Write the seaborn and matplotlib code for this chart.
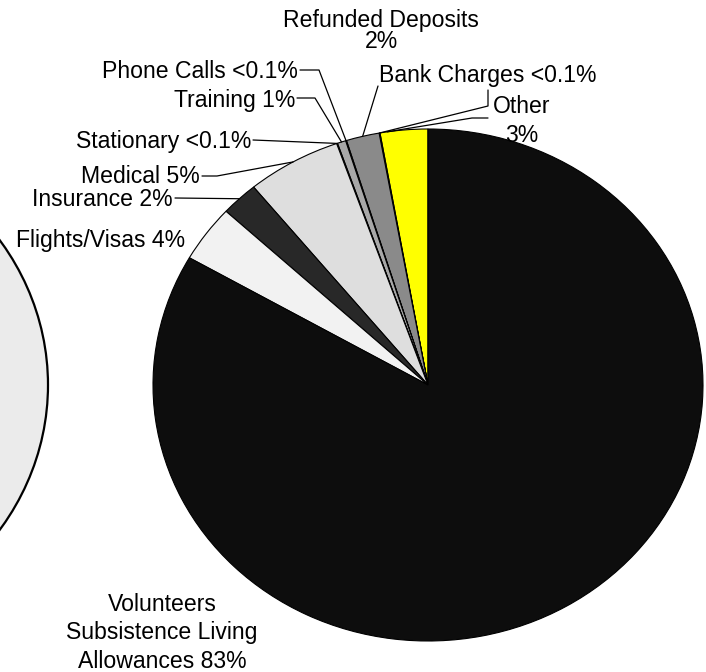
import matplotlib
matplotlib.use('Agg')
import matplotlib.pyplot as plt
from matplotlib.patches import Ellipse
import numpy as np
import seaborn as sns

# Data (counter-clockwise from 12 o'clock)
categories = ['Other', 'Bank Charges', 'Refunded Deposits', 'Phone Calls', 'Training',
              'Stationary', 'Medical', 'Insurance', 'Flights/Visas',
              'Volunteers Subsistence Living Allowances']
shares = [2.8, 0.05, 1.95, 0.05, 0.5, 0.05, 5.55, 2.2, 3.6, 83.4]
label_text = ['Other\n3%', 'Bank Charges <0.1%', 'Refunded Deposits\n2%', 'Phone Calls <0.1%',
              'Training 1%', 'Stationary <0.1%', 'Medical 5%', 'Insurance 2%',
              'Flights/Visas 4%', 'Volunteers\nSubsistence Living\nAllowances 83%']
colors = ['#ffff00', '#808080', '#8a8a8a', '#a0a0a0', '#a8a8a8', '#a0a0a0',
          '#dedede', '#282828', '#f2f2f2', '#0d0d0d']

sns.set_theme(style='white')
plt.rcParams['font.family'] = ['Liberation Sans', 'DejaVu Sans']

# pie geometry in image pixels (slightly elliptical like the original)
CX, CY, RX, RY = 428, 385, 275, 256
W, H = 706, 672


def px(x, y):
    # image pixel -> data coords
    return (x - CX) / RX, (CY - y) / RY


fig = plt.figure(figsize=(W / 100, H / 100), dpi=100)
ax = fig.add_axes([0, 0, 1, 1])

# part of a neighbouring pie, cut off at the left edge
ax.add_patch(Ellipse(px(48 - RX, CY), 2, 2, facecolor='#ebebeb', edgecolor='black', linewidth=1.6))

wedges, _ = ax.pie(shares, colors=colors, startangle=90, counterclock=True, radius=1,
                   wedgeprops=dict(edgecolor='black', linewidth=0.8))
ax.set_aspect('auto')
ax.set_xlim(-CX / RX, (W - CX) / RX)
ax.set_ylim((CY - H) / RY, CY / RY)
ax.axis('off')

# label layout: (anchor x, first baseline y, ha, line gap, leader points, anchor fraction in wedge)
layout = {
    'Other': (522, 113, 'center', 29, [(488, 118), (472, 118)], 0.85),
    'Bank Charges': (379, 82, 'left', 0, [(488, 90), (488, 106)], 0.5),
    'Refunded Deposits': (381, 27, 'center', 21, [(378, 86)], 0.5),
    'Phone Calls': (298, 78, 'right', 0, [(300, 70), (319, 70)], 0.5),
    'Training': (295, 107, 'right', 0, [(297, 98), (315, 98)], 0.5),
    'Stationary': (251, 148, 'right', 0, [(253, 140)], 0.5),
    'Medical': (200, 183, 'right', 0, [(202, 176), (217, 176)], 0.5),
    'Insurance': (173, 206, 'right', 0, [(175, 198)], 0.5),
    'Flights/Visas': (185, 247, 'right', 0, [], 0.5),
    'Volunteers Subsistence Living Allowances': (162, 611, 'center', 28.5, [], 0.5),
}

for cat, w, txt in zip(categories, wedges, label_text):
    x0, y0, ha, gap, pts, frac = layout[cat]
    for i, line in enumerate(txt.split('\n')):
        tx, ty = px(x0, y0 + i * gap)
        ax.text(tx, ty, line, ha=ha, va='baseline', fontsize=16.6, color='black')
    if pts:
        ang = np.deg2rad(w.theta1 + frac * (w.theta2 - w.theta1))
        xs = [px(*p)[0] for p in pts] + [np.cos(ang)]
        ys = [px(*p)[1] for p in pts] + [np.sin(ang)]
        ax.plot(xs, ys, color='black', linewidth=0.9)

fig.savefig('out.png', dpi=100)
